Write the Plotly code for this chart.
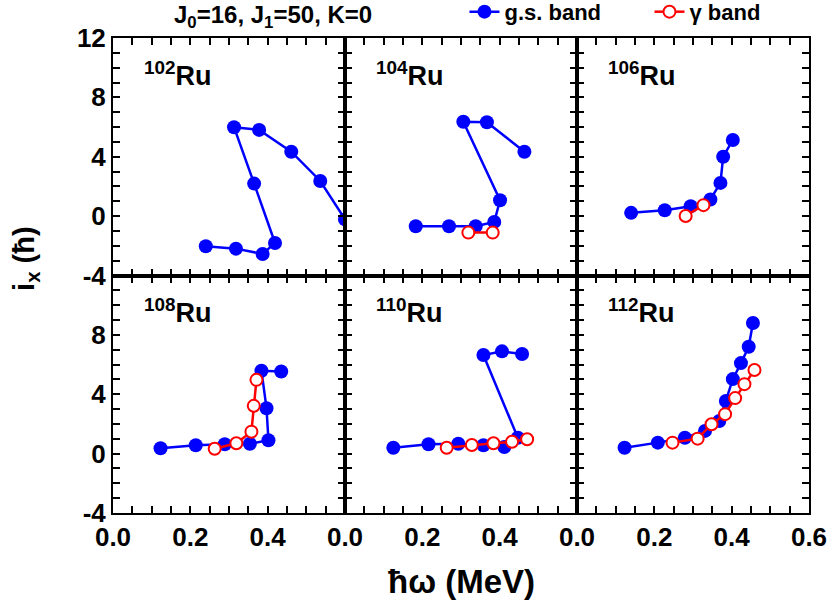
import plotly.graph_objects as go
from plotly.subplots import make_subplots

# ---- data (hbar*omega in MeV, i_x in hbar) ----
isotopes = ["102", "104", "106", "108", "110", "112"]

gs_x_102 = [0.240, 0.318, 0.387, 0.419, 0.365, 0.313, 0.378, 0.461, 0.536, 0.600]
gs_y_102 = [-2.03, -2.19, -2.55, -1.81, 2.19, 5.99, 5.81, 4.34, 2.37, -0.22]
gam_x_102 = []
gam_y_102 = []

gs_x_104 = [0.183, 0.269, 0.338, 0.386, 0.401, 0.306, 0.367, 0.464]
gs_y_104 = [-0.68, -0.68, -0.68, -0.39, 1.07, 6.36, 6.32, 4.34]
gam_x_104 = [0.319, 0.382]
gam_y_104 = [-1.11, -1.11]

gs_x_106 = [0.140, 0.227, 0.294, 0.345, 0.371, 0.378, 0.403]
gs_y_106 = [0.22, 0.40, 0.67, 1.12, 2.24, 4.00, 5.13]
gam_x_106 = [0.281, 0.327]
gam_y_106 = [0.01, 0.74]

gs_x_108 = [0.123, 0.214, 0.289, 0.354, 0.402, 0.397, 0.384, 0.435]
gs_y_108 = [0.36, 0.56, 0.63, 0.67, 0.90, 3.06, 5.58, 5.53]
gam_x_108 = [0.263, 0.319, 0.358, 0.364, 0.371]
gam_y_108 = [0.33, 0.70, 1.48, 3.22, 4.97]

gs_x_110 = [0.125, 0.216, 0.293, 0.358, 0.412, 0.447, 0.358, 0.406, 0.458]
gs_y_110 = [0.40, 0.63, 0.67, 0.56, 0.45, 1.07, 6.64, 6.89, 6.71]
gam_x_110 = [0.263, 0.328, 0.384, 0.432, 0.471]
gam_y_110 = [0.40, 0.58, 0.70, 0.80, 0.97]

gs_x_112 = [0.123, 0.209, 0.279, 0.331, 0.368, 0.385, 0.403, 0.424, 0.444, 0.455]
gs_y_112 = [0.40, 0.74, 1.07, 1.53, 2.20, 3.55, 5.02, 6.10, 7.20, 8.80]
gam_x_112 = [0.247, 0.312, 0.348, 0.383, 0.409, 0.433, 0.459]
gam_y_112 = [0.74, 1.01, 1.98, 2.66, 3.74, 4.68, 5.63]

gs_x = [gs_x_102, gs_x_104, gs_x_106, gs_x_108, gs_x_110, gs_x_112]
gs_y = [gs_y_102, gs_y_104, gs_y_106, gs_y_108, gs_y_110, gs_y_112]
gam_x = [gam_x_102, gam_x_104, gam_x_106, gam_x_108, gam_x_110, gam_x_112]
gam_y = [gam_y_102, gam_y_104, gam_y_106, gam_y_108, gam_y_110, gam_y_112]

x_labels_inner = [0.0, 0.2, 0.4]
x_labels_last = [0.0, 0.2, 0.4, 0.6]
y_labels_top = [-4, 0, 4, 8, 12]
y_labels_bottom = [-4, 0, 4, 8]

BLUE = "#0000FF"
RED = "#FF0000"
FONT = "Liberation Sans, Arial, sans-serif"

fig = make_subplots(rows=2, cols=3, horizontal_spacing=0, vertical_spacing=0)

for i in range(6):
    r, c = i // 3 + 1, i % 3 + 1
    fig.add_trace(go.Scatter(
        x=gs_x[i], y=gs_y[i], mode="lines+markers", name="g.s. band",
        line=dict(color=BLUE, width=2.5),
        marker=dict(color=BLUE, size=14, symbol="circle"),
        showlegend=(i == 0), legendgroup="gs"), row=r, col=c)
    if gam_x[i]:
        fig.add_trace(go.Scatter(
            x=gam_x[i], y=gam_y[i], mode="lines+markers", name="\u03b3 band",
            line=dict(color=RED, width=2.5),
            marker=dict(color="white", size=12, symbol="circle",
                        line=dict(color=RED, width=2)),
            showlegend=(i == 3), legendgroup="gam"), row=r, col=c)

# tick positions every 0.05 / every 1, labels only on the major ones
x_tick_pos = [round(k * 0.05, 2) for k in range(13)]
y_tick_pos = list(range(-4, 13))

for i in range(6):
    r, c = i // 3 + 1, i % 3 + 1
    xl = x_labels_last if c == 3 else x_labels_inner
    fig.update_xaxes(
        range=[0, 0.6], tickmode="array", tickvals=x_tick_pos,
        ticktext=[f"{v:.1f}" if any(abs(v - l) < 1e-9 for l in xl) else ""
                  for v in x_tick_pos],
        showticklabels=(r == 2),
        ticks="inside", ticklen=7, tickwidth=2, tickcolor="#000000",
        showline=True, linecolor="#000000", linewidth=2, mirror="ticks",
        showgrid=False, zeroline=False,
        tickfont=dict(size=26, color="black", weight="bold"),
        row=r, col=c)
    yl = y_labels_top if r == 1 else y_labels_bottom
    fig.update_yaxes(
        range=[-4, 12], tickmode="array", tickvals=y_tick_pos,
        ticktext=[str(v) if v in yl else "" for v in y_tick_pos],
        showticklabels=(c == 1),
        ticks="inside", ticklen=7, tickwidth=2, tickcolor="#000000",
        showline=True, linecolor="#000000", linewidth=2, mirror="ticks",
        showgrid=False, zeroline=False,
        tickfont=dict(size=26, color="black", weight="bold"),
        row=r, col=c)

# isotope labels
for i, iso in enumerate(isotopes):
    idx = "" if i == 0 else str(i + 1)
    fig.add_annotation(
        text=f"<sup>{iso}</sup>Ru", xref=f"x{idx} domain", yref=f"y{idx} domain",
        x=0.125, y=0.93, xanchor="left", yanchor="top", showarrow=False,
        font=dict(size=27, color="black", family=FONT, weight="bold"))

# top-left parameter text
fig.add_annotation(
    text="J<sub>0</sub>=16, J<sub>1</sub>=50, K=0", xref="paper", yref="paper",
    x=0.23, y=1.045, xanchor="center", yanchor="middle", showarrow=False,
    font=dict(size=24, color="black", family=FONT, weight="bold"))

# axis titles
fig.add_annotation(
    text="\u0127\u03c9 (MeV)", xref="paper", yref="paper",
    x=0.5, y=-0.145, xanchor="center", yanchor="middle", showarrow=False,
    font=dict(size=33, color="black", family=FONT, weight="bold"))
fig.add_annotation(
    text="i<sub>x</sub> (\u0127)", xref="paper", yref="paper",
    x=-0.125, y=0.535, xanchor="center", yanchor="middle", showarrow=False,
    textangle=-90,
    font=dict(size=29, color="black", family=FONT, weight="bold"))

fig.update_layout(
    template="none",
    width=832, height=609,
    margin=dict(l=113, r=23, t=38, b=96, autoexpand=False),
    paper_bgcolor="#FFFFFF", plot_bgcolor="#FFFFFF",
    font=dict(family=FONT, color="black", weight="bold"),
    legend=dict(orientation="h", x=0.505, y=1.055, xanchor="left",
                yanchor="middle", font=dict(size=22, color="black"),
                bgcolor="rgba(0,0,0,0)", itemwidth=30, tracegroupgap=0,
                entrywidth=140),
    showlegend=True,
)

fig.write_html("out.html", config={"displayModeBar": False},
               post_script="document.body.style.margin='0';")
